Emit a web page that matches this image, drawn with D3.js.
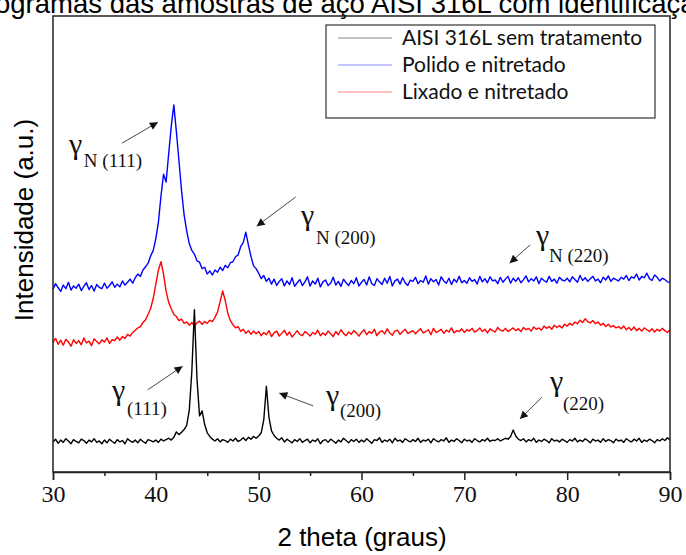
<!DOCTYPE html>
<html>
<head>
<meta charset="utf-8">
<script src="https://d3js.org/d3.v7.min.js"></script>
<style>
  body { margin: 0; background: #fff; }
  svg { display: block; }
</style>
</head>
<body>
<div id="chart"></div>
<script>
// 2 theta grid: first angle and step (degrees)
var startAngle = 30, stepAngle = 0.25;

// intensities (a.u.), one value every 0.25 degree from 30 to 90
var polidoNitretado = [
  40.1, 41.3, 40.4, 39.6, 41.0, 40.2, 41.6, 39.9, 40.8, 40.3, 41.2, 39.8, 40.7, 41.5, 40.0, 40.9, 39.7, 41.1, 40.5, 40.2,
  41.4, 40.3, 40.9, 41.7, 40.5, 41.2, 40.6, 41.9, 41.0, 41.6, 42.3, 41.4, 42.6, 43.4, 42.9, 44.3, 45.0, 45.8, 47.4, 48.6,
  51.2, 54.8, 60.5, 65.3, 63.6, 69.8, 75.8, 80.5, 74.6, 68.2, 61.7, 56.4, 52.9, 50.1, 48.6, 47.8, 46.3, 46.0, 44.6, 44.9,
  43.4, 44.1, 43.2, 44.3, 43.8, 44.9, 44.2, 45.3, 44.8, 45.9, 46.1, 47.2, 47.6, 49.4, 50.3, 52.6, 49.8, 47.3, 45.2, 44.6,
  43.6, 42.4, 43.1, 41.8, 42.5, 41.2, 42.3, 40.9, 41.8, 42.4, 40.8, 41.9, 41.1, 42.6, 40.7, 41.5, 42.2, 40.9, 41.7, 42.8,
  40.8, 41.9, 41.2, 42.5, 40.6, 41.7, 42.1, 40.9, 41.4, 42.7, 41.0, 41.8, 40.7, 42.3, 41.5, 40.9, 42.0, 41.3, 42.6, 40.8,
  41.6, 42.2, 41.0, 42.8, 41.3, 40.9, 42.4, 41.7, 41.1, 42.5, 41.4, 42.9, 40.8, 41.9, 42.3, 41.2, 42.6, 41.5, 40.9, 42.1,
  41.8, 42.7, 41.3, 42.0, 41.6, 43.0, 41.2, 42.4, 41.7, 42.2, 41.0, 42.8, 41.9, 41.4, 42.5, 41.1, 42.3, 41.6, 42.9, 41.5,
  42.0, 41.4, 42.6, 41.8, 42.2, 41.2, 42.9, 41.7, 42.4, 41.5, 42.8, 41.9, 42.1, 41.3, 42.7, 41.6, 42.3, 42.9, 41.4, 42.5,
  41.8, 42.6, 41.5, 42.2, 43.0, 41.7, 42.4, 41.9, 42.8, 41.3, 42.5, 42.0, 41.6, 42.9, 41.8, 42.3, 41.4, 42.7, 42.1, 41.9,
  42.5, 41.7, 42.8, 42.2, 41.6, 43.1, 42.0, 42.6, 41.8, 42.4, 42.9, 41.9, 42.3, 41.5, 42.7, 42.1, 43.0, 41.8, 42.5, 42.2,
  41.9, 42.7, 42.3, 43.1, 42.0, 42.8, 42.5, 43.4, 42.1, 42.9, 42.6, 43.6, 42.4, 42.0, 43.2, 42.7, 41.9, 42.5, 42.2, 41.7,
  41.6
];

var lixadoNitretado = [
  28.4, 29.3, 28.0, 28.9, 27.8, 29.1, 28.5, 27.6, 29.0, 28.2, 28.8, 27.9, 29.4, 28.3, 28.7, 27.7, 29.2, 28.6, 28.1, 29.0,
  28.5, 29.4, 28.2, 29.0, 28.8, 29.6, 28.9, 29.7, 29.3, 30.2, 29.8, 30.6, 31.1, 31.6, 31.9, 32.8, 33.4, 34.6, 35.9, 38.1,
  41.2, 44.3, 46.1, 43.4, 39.6, 37.2, 35.8, 34.6, 34.1, 33.2, 33.5, 32.6, 32.9, 32.2, 32.8, 32.0, 32.7, 33.1, 32.4, 33.0,
  32.6, 33.3, 33.0, 33.9, 35.1, 37.3, 39.7, 37.6, 34.8, 33.2, 32.3, 31.6, 31.9, 30.8, 31.3, 30.4, 31.0, 30.2, 30.9, 30.3,
  30.8, 29.9, 30.6, 30.1, 31.0, 29.7, 30.5, 30.9, 29.8, 30.4, 31.1, 30.0, 30.7, 29.6, 30.3, 31.0, 30.2, 29.9, 30.8, 30.4,
  29.8, 30.6, 30.2, 31.1, 29.9, 30.5, 30.0, 30.9, 30.3, 29.7, 30.8, 30.1, 31.2, 30.4, 29.9, 30.7, 30.2, 31.0, 30.5, 29.8,
  30.6, 31.2, 30.1, 30.8, 30.4, 31.3, 29.9, 30.7, 31.0, 30.3, 31.4, 30.5, 30.0, 30.9, 31.1, 30.2, 30.8, 31.3, 30.4, 30.7,
  31.0, 30.3, 30.9, 31.4, 30.5, 30.8, 31.2, 30.1, 31.5, 30.6, 30.9, 31.3, 30.4, 31.1, 30.7, 31.6, 30.5, 31.0, 30.8, 31.4,
  30.6, 31.2, 30.9, 31.5, 30.7, 31.0, 31.6, 30.8, 31.3, 30.5, 31.4, 31.0, 30.7, 31.7, 31.1, 30.9, 31.5, 30.8, 31.2, 31.6,
  31.0, 31.4, 30.8, 31.7, 31.2, 31.5, 30.9, 31.8, 31.3, 31.6, 31.1, 32.0, 31.5, 31.9, 31.3, 32.2, 31.7, 32.1, 31.6, 32.4,
  32.0, 32.6, 32.2, 32.9, 32.5, 33.3, 32.8, 33.6, 33.0, 32.7, 33.2, 32.5, 32.9, 32.2, 32.6, 31.9, 32.4, 31.8, 32.1, 31.6,
  31.9, 31.4, 32.0, 31.2, 31.7, 31.1, 31.8, 31.0, 31.5, 30.9, 31.6, 31.2, 30.8, 31.4, 30.7, 31.3, 30.9, 31.5, 31.0, 30.6,
  31.2
];

var semTratamento = [
  6.6, 7.2, 6.3, 7.0, 6.5, 7.3, 6.8, 6.2, 7.1, 6.7, 6.4, 7.2, 6.9, 6.3, 7.0, 6.6, 7.3, 6.5, 6.8, 6.2,
  7.0, 6.4, 7.2, 6.7, 6.3, 7.1, 6.6, 6.9, 6.2, 7.3, 6.8, 6.5, 7.0, 6.4, 7.2, 6.7, 6.3, 7.1, 6.9, 6.6,
  7.0, 6.5, 7.2, 6.8, 7.1, 7.4, 7.0, 7.6, 8.8, 8.2, 8.7, 9.3, 10.2, 13.5, 22.0, 35.6, 20.5, 12.3, 13.4, 10.4,
  8.6, 7.8, 7.2, 6.8, 7.3, 6.6, 7.1, 6.9, 6.5, 7.2, 6.8, 7.4, 6.7, 7.0, 7.5, 6.9, 7.6, 7.2, 7.8, 7.4,
  7.9, 8.6, 11.5, 18.8, 12.0, 9.0, 8.0, 7.4, 7.0, 7.5, 6.6, 7.2, 6.8, 6.4, 7.1, 6.7, 7.3, 6.5, 6.9, 7.2,
  6.4, 7.0, 6.7, 7.3, 6.2, 6.9, 7.1, 6.5, 7.2, 6.8, 6.3, 7.0, 6.6, 7.4, 6.9, 6.4, 7.1, 6.7, 7.2, 6.5,
  7.0, 6.6, 7.3, 6.8, 6.3, 7.1, 6.9, 7.5, 6.5, 7.0, 6.7, 7.2, 6.4, 7.4, 6.8, 7.0, 6.5, 7.3, 6.9, 6.6,
  7.1, 6.7, 7.4, 6.5, 7.0, 6.8, 7.2, 6.4, 7.3, 6.9, 6.6, 7.1, 6.8, 7.5, 6.5, 7.0, 6.7, 7.3, 6.9, 6.4,
  7.2, 6.8, 7.0, 6.5, 7.3, 6.9, 6.6, 7.1, 6.8, 7.4, 6.7, 7.0, 6.9, 7.3, 6.8, 7.1, 7.4, 7.2, 7.8, 9.2,
  7.9, 7.2, 6.9, 7.3, 6.6, 7.1, 6.8, 7.4, 6.5, 7.0, 6.7, 7.2, 6.9, 6.4, 7.3, 6.8, 7.0, 6.6, 7.2, 6.9,
  6.5, 7.1, 6.8, 7.4, 6.6, 7.0, 6.7, 7.3, 6.9, 6.4, 7.2, 6.8, 7.0, 6.5, 7.3, 6.7, 7.1, 6.9, 6.4, 7.2,
  6.8, 7.0, 6.5, 7.3, 6.9, 6.6, 7.2, 6.8, 7.4, 6.5, 7.0, 6.7, 7.2, 6.9, 6.4, 7.1, 6.8, 7.3, 6.9, 7.5,
  7.0
];

var seriesNames = ["AISI 316L sem tratamento", "Polido e nitretado", "Lixado e nitretado"];
var seriesColors = ["#000000", "#0000ff", "#ff0000"];
var xTicks = [30, 40, 50, 60, 70, 80, 90];
var xMinorTicks = [35, 45, 55, 65, 75, 85];

// peak labels: gamma label spot, subscript, arrow tail and head (degrees, a.u.)
var peakLabels = [
  { g: [31.56, 69.7], sub: "N (111)", s: [33.0, 66.9], from: [36.7, 72.1], to: [40.2, 76.7] },
  { g: [54.12, 54.2], sub: "N (200)", s: [55.58, 50.0], from: [53.6, 60.3], to: [49.8, 53.9] },
  { g: [76.97, 49.8], sub: "N (220)", s: [78.23, 46.0], from: [76.4, 49.8], to: [74.4, 45.8] },
  { g: [35.74, 15.8], sub: "(111)", s: [37.2, 12.5], from: [39.2, 18.0], to: [42.6, 23.2] },
  { g: [56.55, 14.7], sub: "(200)", s: [57.91, 12.1], from: [55.3, 14.5], to: [52.0, 17.3] },
  { g: [78.33, 17.8], sub: "(220)", s: [79.6, 13.6], from: [77.55, 16.4], to: [75.4, 11.6] }
];

var titleText = "Difratogramas das amostras de aço AISI 316L com identificação dos picos";

var width = 686, height = 555;
var svg = d3.select("#chart").append("svg")
  .attr("width", width).attr("height", height);

var x = d3.scaleLinear().domain([30, 90]).range([53, 670]);
var y = d3.scaleLinear().domain([0, 100]).range([472, 16]);

// title, cut off at the top of the picture as in the original
var title = svg.append("text")
  .attr("y", 13)
  .style("font-family", "Liberation Sans, Arial, sans-serif")
  .style("font-size", "27.5px")
  .text(titleText);
var probe = svg.append("text")
  .style("font-family", "Liberation Sans, Arial, sans-serif")
  .style("font-size", "27.5px")
  .text("Difrat");
var cut = probe.node().getComputedTextLength();
probe.remove();
title.attr("x", -cut - 5);

// traces
var line = d3.line()
  .x(function(d, i) { return x(startAngle + i * stepAngle); })
  .y(function(d) { return y(d); });

var traces = [
  { values: polidoNitretado, color: seriesColors[1] },
  { values: lixadoNitretado, color: seriesColors[2] },
  { values: semTratamento, color: seriesColors[0] }
];
svg.selectAll("path.trace")
  .data(traces)
  .enter().append("path")
  .attr("class", "trace")
  .attr("d", function(d) { return line(d.values); })
  .attr("fill", "none")
  .attr("stroke", function(d) { return d.color; })
  .attr("stroke-width", 1.4)
  .attr("stroke-linejoin", "round");

// frame
svg.append("rect")
  .attr("x", x(30)).attr("y", y(100))
  .attr("width", x(90) - x(30)).attr("height", y(0) - y(100))
  .attr("fill", "none").attr("stroke", "#222").attr("stroke-width", 1.5);

// x axis
var xAxis = svg.append("g")
  .attr("transform", "translate(0," + y(0) + ")")
  .call(d3.axisBottom(x).tickValues(xTicks).tickSize(8).tickPadding(5).tickFormat(d3.format("d")));
xAxis.select(".domain").attr("stroke", "#222").attr("stroke-width", 1.5);
xAxis.selectAll(".tick line").attr("stroke", "#222").attr("stroke-width", 1.5);
xAxis.selectAll(".tick text")
  .style("font-family", "Liberation Serif, Times New Roman, serif")
  .style("font-size", "24px")
  .attr("fill", "#111");

var xMinor = svg.append("g")
  .attr("transform", "translate(0," + y(0) + ")")
  .call(d3.axisBottom(x).tickValues(xMinorTicks).tickSize(4).tickFormat(""));
xMinor.select(".domain").remove();
xMinor.selectAll(".tick line").attr("stroke", "#222").attr("stroke-width", 1.5);

// axis titles
svg.append("text")
  .attr("x", 362).attr("y", 546)
  .attr("text-anchor", "middle")
  .style("font-family", "Liberation Sans, Arial, sans-serif")
  .style("font-size", "26px")
  .text("2 theta (graus)");

svg.append("text")
  .attr("transform", "translate(33,220) rotate(-90)")
  .attr("text-anchor", "middle")
  .style("font-family", "Liberation Sans, Arial, sans-serif")
  .style("font-size", "26px")
  .text("Intensidade (a.u.)");

// peak annotations
svg.append("defs").append("marker")
  .attr("id", "head")
  .attr("viewBox", "0 0 10 10")
  .attr("refX", 10).attr("refY", 5)
  .attr("markerWidth", 11).attr("markerHeight", 8)
  .attr("markerUnits", "userSpaceOnUse")
  .attr("orient", "auto")
  .append("path").attr("d", "M0,0 L10,5 L0,10 Z").attr("fill", "#111");

var ann = svg.append("g").attr("class", "peaks");
peakLabels.forEach(function(p) {
  ann.append("line")
    .attr("x1", x(p.from[0])).attr("y1", y(p.from[1]))
    .attr("x2", x(p.to[0])).attr("y2", y(p.to[1]))
    .attr("stroke", "#333").attr("stroke-width", 0.9)
    .attr("marker-end", "url(#head)");
  ann.append("text")
    .attr("x", x(p.g[0])).attr("y", y(p.g[1]))
    .style("font-family", "Liberation Serif, Times New Roman, serif")
    .style("font-size", "30px")
    .attr("fill", "#111")
    .text("γ");
  ann.append("text")
    .attr("x", x(p.s[0])).attr("y", y(p.s[1]))
    .style("font-family", "Liberation Serif, Times New Roman, serif")
    .style("font-size", "19px")
    .attr("fill", "#111")
    .text(p.sub);
});

// legend
var legend = svg.append("g").attr("class", "legend");
legend.append("rect")
  .attr("x", 326).attr("y", 25).attr("width", 329).attr("height", 93)
  .attr("fill", "#fff").attr("stroke", "#333").attr("stroke-width", 1.2);
seriesNames.forEach(function(name, i) {
  var ly = 38 + i * 27;
  legend.append("line")
    .attr("x1", 338).attr("x2", 392).attr("y1", ly).attr("y2", ly)
    .attr("stroke", seriesColors[i]).attr("stroke-width", 0.8).attr("stroke-opacity", 0.6);
  legend.append("text")
    .attr("x", 402).attr("y", ly + 7)
    .style("font-family", "Lato, Carlito, sans-serif")
    .style("font-size", "21px")
    .attr("fill", "#111")
    .text(name);
});
</script>
</body>
</html>
